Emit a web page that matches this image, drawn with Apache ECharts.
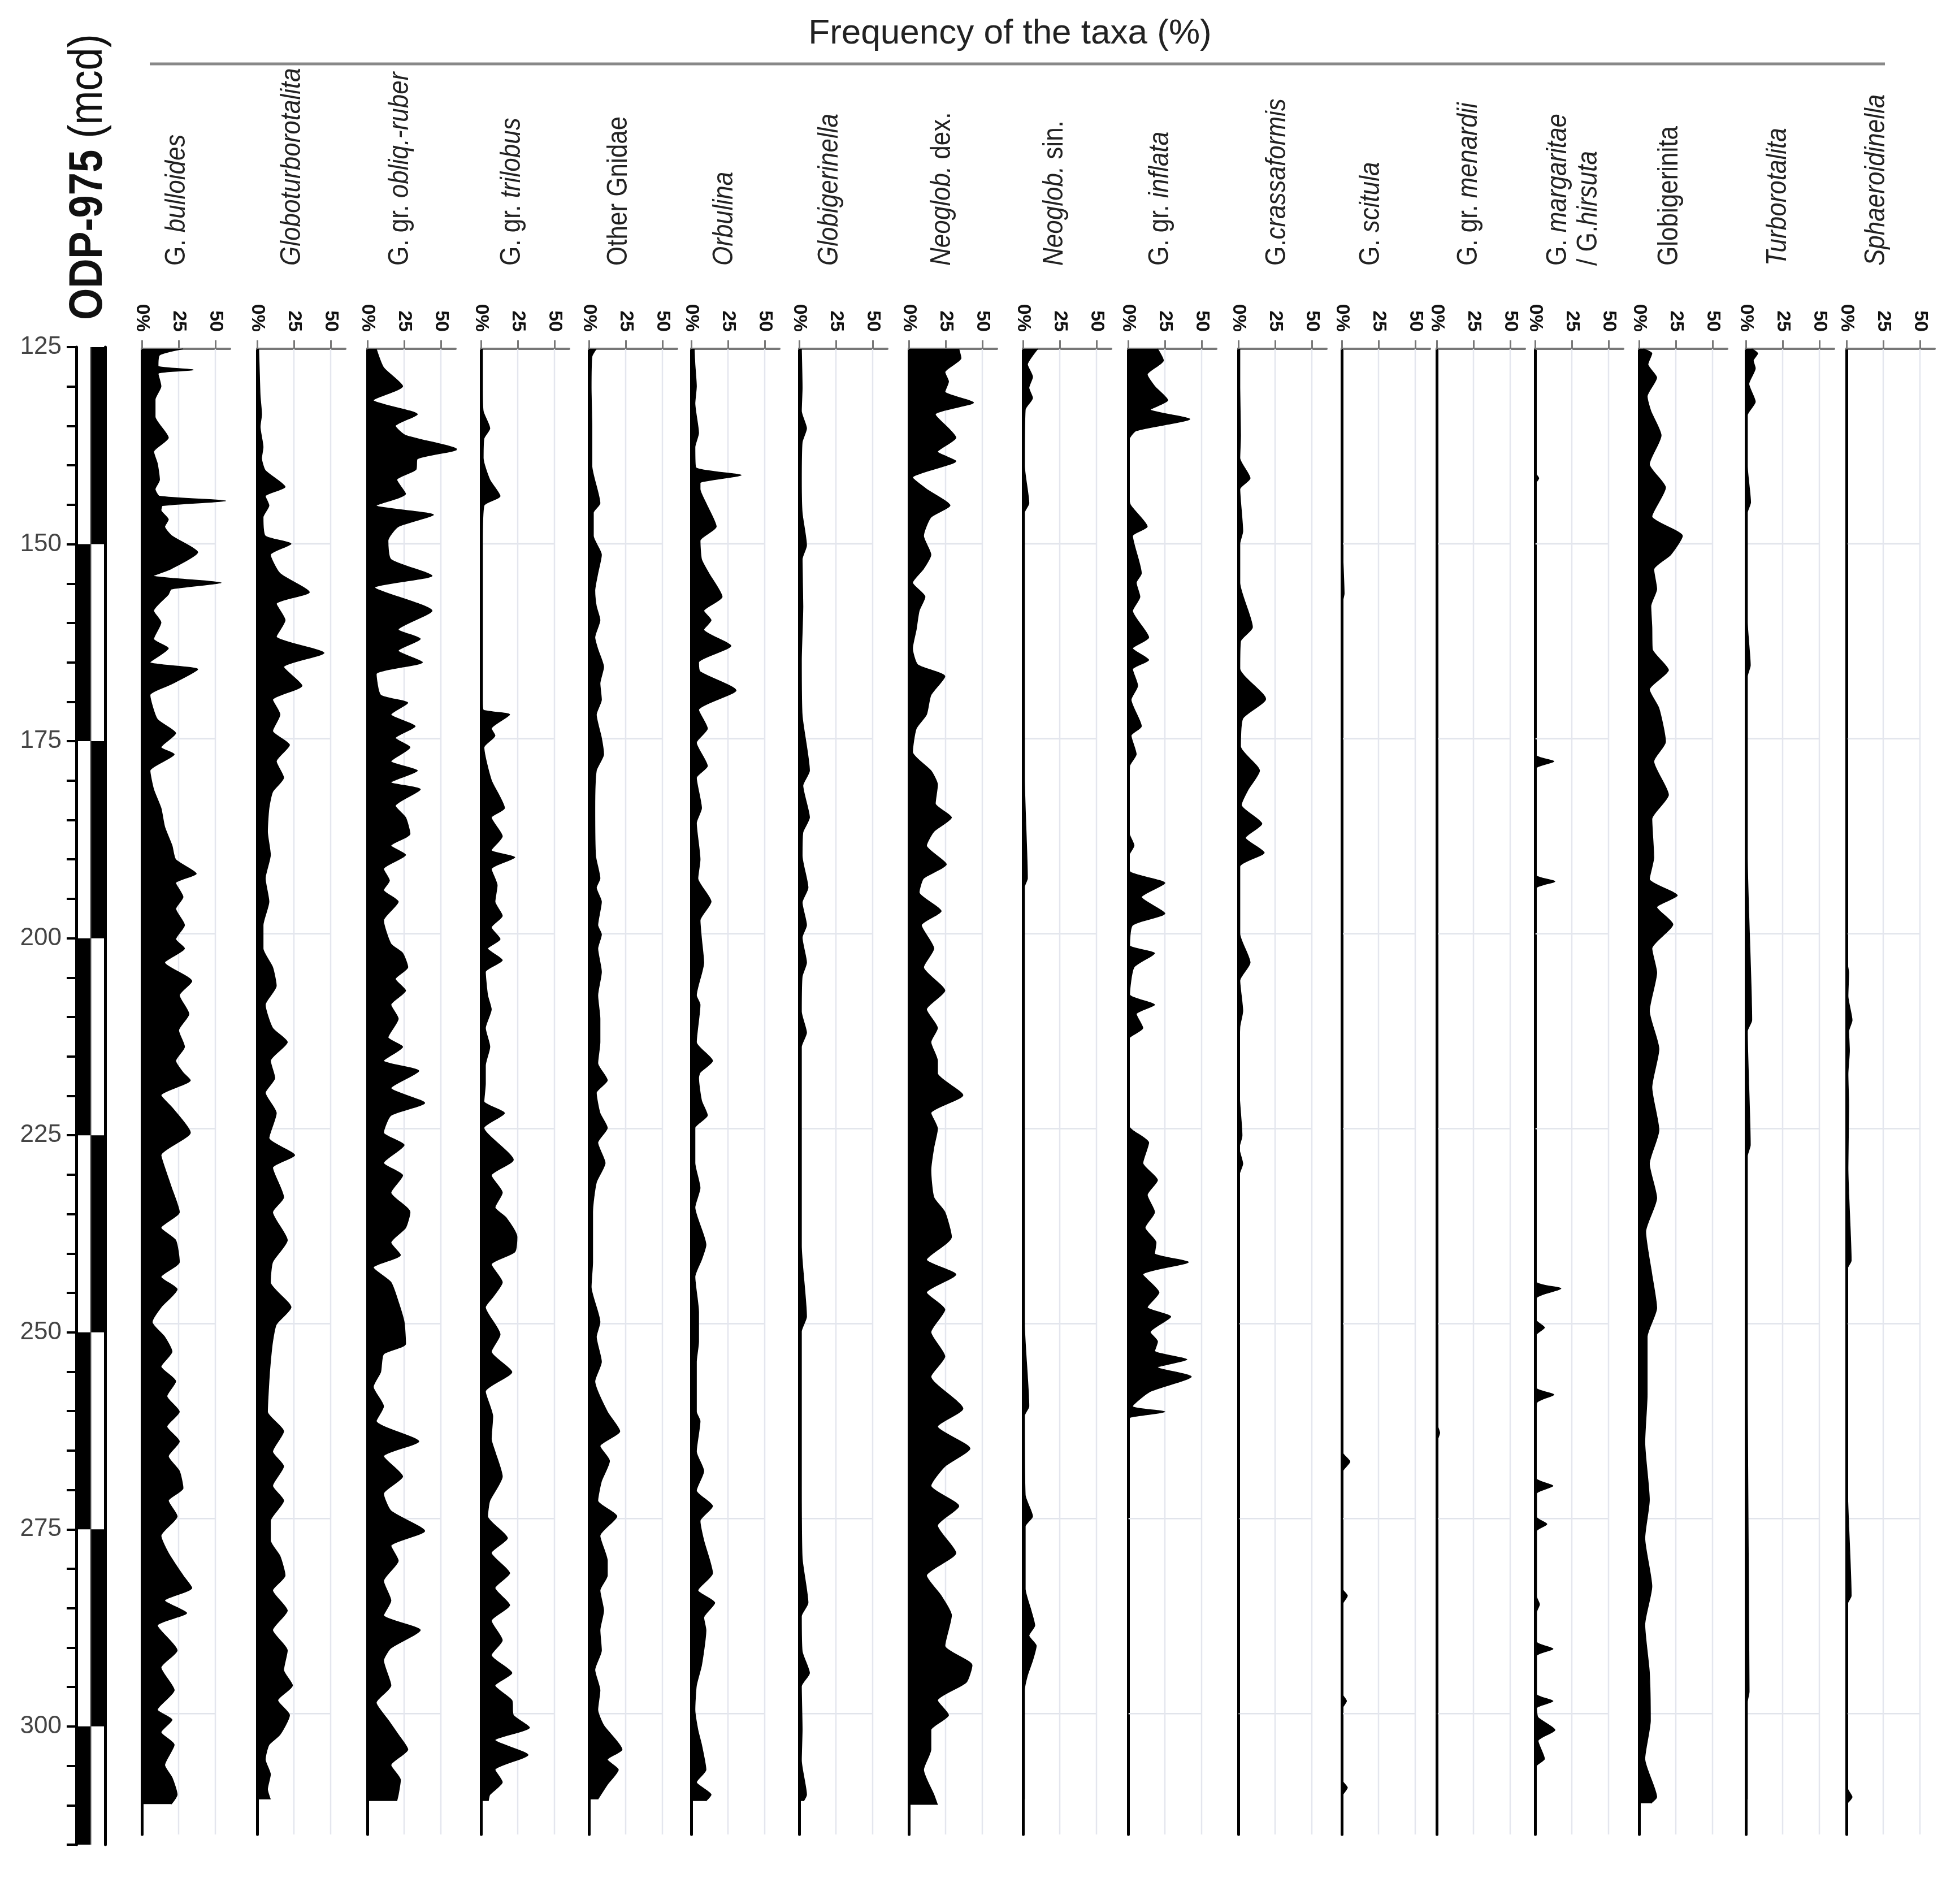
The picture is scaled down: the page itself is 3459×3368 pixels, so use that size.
<!DOCTYPE html>
<html><head><meta charset="utf-8">
<script src="https://cdn.jsdelivr.net/npm/echarts@6/dist/echarts.min.js"></script>
<style>html,body{margin:0;padding:0;background:#fff}#c{width:3459px;height:3368px}</style>
</head><body><div id="c"></div>
<script>
// ---------------- DATA ([depth mcd, frequency %]) ----------------
const taxa = ['G. bulloides','Globoturborotalita','G. gr. obliq.-ruber','G. gr. trilobus','Other Gnidae','Orbulina','Globigerinella','Neoglob. dex.','Neoglob. sin.','G. gr. inflata','G.crassaformis','G. scitula','G. gr. menardii','G. margaritae / G.hirsuta','Globigerinita','Turborotalita','Sphaeroidinella'];
const taxaLabel = ['G. {i|bulloides}','{i|Globoturborotalita}','G. gr. {i|obliq.-ruber}','G. gr. {i|trilobus}','Other Gnidae','{i|Orbulina}','{i|Globigerinella}','{i|Neoglob.} dex.','{i|Neoglob.} sin.','G. gr. {i|inflata}','G.{i|crassaformis}','G. {i|scitula}','G. gr. {i|menardii}','G. {i|margaritae}\n/ G.{i|hirsuta}','Globigerinita','{i|Turborotalita}','{i|Sphaeroidinella}'];
const xTicks = [0, 25, 50];
const xTickLabels = ['0%', '25', '50'];
const depthGridLines = [150, 175, 200, 225, 250, 275, 300];
const chronBounds = [125, 150, 175, 200, 225, 250, 275, 300, 315];
const chronLeftBlack = [0, 1, 0, 1, 0, 1, 0, 1];

const bulloides = [[125,28],[125.8,12],[127.2,11],[127.7,35],[128.2,11],[129.8,13],[131.5,9],[133.7,9],[136.4,18],[138.2,8],[139.7,10.5],[141.8,12],[143,9],[143.9,12],[144.5,57],[145.1,14],[145.7,13],[146.9,18],[147.8,15.5],[149,20.5],[151.1,38],[153.2,20],[154.1,8],[155,54],[155.8,20],[156.5,18],[158.6,8],[160.1,13],[162.2,8],[163.4,18],[165.2,5.5],[166.1,38],[168,20],[169.4,5.5],[172.5,10.5],[174.3,23],[176.1,13],[177,22],[179.1,5.5],[181.5,8],[183.9,13],[186.3,15.5],[188.7,20.5],[190.5,23],[192.3,37],[193.5,23],[195.3,28],[196.8,23],[198.9,29],[200.7,23],[201.9,29],[203.7,15.5],[206.1,34],[207.9,25.5],[210.3,32],[212.4,25],[214.5,29],[216.3,23],[217.8,28],[218.8,33],[220.7,13],[222.3,20.5],[225.5,33],[228.4,13],[230,15.5],[232.5,20],[235.7,25.5],[237.7,13],[239.3,23],[242.1,25.5],[244,13],[245.6,24],[247.9,13],[249.8,7],[251.7,15.5],[253.6,20.5],[255.5,13],[257.4,23],[259.3,17],[261.3,25.5],[263.2,17],[265.1,25.5],[267,18],[268.9,25.5],[271.1,28],[272.7,18],[274.7,24],[277.2,13],[279.4,18],[282.3,28],[283.9,34],[285.5,15.5],[287.1,30.5],[288.7,10.5],[291.9,24],[294.1,13],[297,22],[299.5,10.5],[300.8,20.5],[302.4,13],[304,22],[306.6,15.5],[308.2,20.5],[310.4,24],[311.6,20]];
const globoturborotalita = [[125,1],[128,1.5],[131,2],[133.4,3],[135,2],[137.6,4],[139,3],[140.6,5.5],[142.7,19],[143.9,5.5],[145.1,8],[146.6,4],[149,5.5],[150,23],[151.4,9],[153.8,15.5],[156.2,35.5],[157.7,13],[159.8,19],[161.9,13],[164,45.5],[165.8,18],[168.2,30.5],[170,10.5],[171.9,15.5],[174,10.5],[175.8,22],[177.9,13],[180,18],[181.8,10.5],[183.9,8],[186.9,7],[189.9,9],[192.9,5.5],[195.9,8],[198.9,4],[201.9,4],[204.3,10.5],[206.7,13],[209.1,5.5],[212.1,10.5],[213.9,20.5],[216.3,9],[218.5,12],[220.4,5.5],[223,13],[226.2,8],[228.4,25.5],[230,10.5],[233.8,18],[235.7,10.5],[239.3,20.5],[242.1,10.5],[244.7,9],[247.9,23],[250.1,13],[252.3,10.5],[254.9,9],[257.4,8],[261.3,7],[263.8,18],[266.4,10.5],[268.3,18],[270.8,10.5],[272.7,18],[275.3,9],[277.8,9],[279.8,15.5],[282.3,19],[284.2,10.5],[286.8,20.5],[289.3,10.5],[291.9,20.5],[294.4,18],[296.4,24],[298.3,14],[300.2,22],[302.7,15.5],[304,8],[305.9,5.5],[307.8,9],[309.7,7],[311,9]];
const obliqRuber = [[125,6],[127.4,11],[129.8,24],[131.6,4],[133.4,34],[134.9,19],[136.1,26],[137.9,61],[139.1,34],[140.5,33],[141.8,20],[143.6,26],[145.1,6],[146.3,45],[147.8,21],[149.6,14],[152,16],[154.1,44],[155.6,5],[158.6,44],[161,21],[162.2,36],[163.7,21],[165.2,37.5],[166.7,6],[169.4,9],[170.4,27.5],[171.9,16],[173.4,32.5],[174.9,19],[176.1,29],[177.9,16],[179.1,34],[180.6,16],[181.5,36],[183.6,19],[185.1,26],[187.2,29],[188.7,16],[189.9,26],[191.7,11],[193.2,15],[194.4,11],[195.9,21],[198.3,11],[201.3,16],[202.5,24],[204.3,27.5],[205.8,19],[207.3,26],[209.1,16],[210.9,21],[213.3,14],[214.5,24],[216.3,11],[217.6,35],[219.8,16],[221.7,39],[223.3,16],[225.5,11],[227.1,25],[229.4,11],[231,24],[233.2,16],[235.7,29],[237.7,26],[239.6,16],[241.2,22.5],[242.8,4],[244.7,16],[247.2,21],[249.8,25],[252.6,26],[253.9,11],[256.2,9],[258.1,4],[260.6,11],[262.5,6],[265.1,35],[267,11],[269.6,24],[271.8,11],[274,16],[276.6,39],[278.5,16],[280.4,21],[283,11],[285.5,16],[287.4,11],[289.3,36],[291.6,16],[293.2,11],[296.4,16],[298.6,6],[300.8,14],[302.7,21],[304.6,27.5],[306.6,16],[308.5,22.5],[310.4,21],[311.2,20]];
const trilobus = [[125,1],[130,1],[133,1.5],[135.2,6],[136.5,2],[139,1.5],[141.8,6],[143.9,13],[145.1,2],[150,1],[160,1],[170,1],[171.3,1.5],[171.9,19.5],[173.7,7],[174.6,9.5],[176.1,2],[180.3,7],[183.9,16],[185.1,7],[187.5,14.5],[189.3,7],[190.2,23],[191.7,7],[193.8,11],[195.9,9.5],[197.7,14.5],[199.2,7],[200.7,13],[201.9,4.5],[203.4,14.5],[204.9,3],[207.9,4.5],[209.7,7],[212.1,3],[214.5,6],[216.9,3],[219.2,3],[221.5,2],[223,16],[224.9,2],[229,22],[231,7],[233.2,14.5],[235.1,9.5],[236.4,17],[238.9,24.5],[240.8,23],[242.4,7],[244.7,14.5],[246.6,8],[247.9,3],[251.4,13],[253.6,7],[256.2,21],[258.7,3],[261.9,8],[264.8,7],[266.4,9.5],[269.6,14.5],[272.7,6],[274.7,4.5],[277.5,18],[279.4,7],[282,19.5],[283.9,9.5],[286.1,19.5],[288.1,7],[290.6,14.5],[292.5,7],[294.8,21],[296.4,9.5],[298.3,21],[300.2,22],[301.8,33],[303.4,9.5],[305.3,32],[307.2,9.5],[308.8,14.5],[310.4,6],[311.2,5]];
const otherGnidae = [[125,5],[126,2],[130,1.5],[135,2],[140,2],[144.8,7.5],[146,3],[149,3],[151.4,8.5],[153.8,6],[156,4],[158,5],[159.8,7.5],[162,4],[163.5,6],[165.8,10],[167.9,7.5],[170,8.5],[171.9,5],[174.9,8.5],[177,10],[179.1,5],[183.9,4],[190,4.5],[192.9,7.5],[194.1,5],[195.9,8.5],[198.9,6],[200.1,8.5],[201.9,6],[204.9,8.5],[207.9,6],[210.9,7.5],[213.9,7.5],[216.6,6],[218.8,12.5],[220.4,5],[223,7.5],[224.9,12.5],[226.8,6],[229.4,11],[231.9,5],[235.7,2.5],[242.1,2.5],[245.3,1.5],[249.8,7.5],[251.7,5],[254.9,8.5],[257.4,4],[261.3,12.5],[263.8,21],[265.7,7.5],[267.6,14],[270.2,8.5],[272.7,6],[274.7,19],[277.2,7.5],[280.4,12.5],[282.3,12.5],[284.2,7.5],[286.8,10],[289.3,7.5],[291.9,8.5],[294.4,4],[297,7.5],[299.5,6],[301.5,10],[304.6,22.5],[305.9,12.5],[307.2,20],[309.1,12.5],[311,6]];
const orbulina = [[125,2],[127,2.5],[129.8,3.5],[132,2.5],[135.8,5],[137.6,2.5],[140.2,3],[141.2,34],[142.2,6],[143,6],[144.8,10],[147.8,17],[149.6,6],[152,7],[153.8,12],[156.8,21],[158.6,8.5],[159.8,13.5],[161,8.5],[163.1,27],[165.2,5],[166.4,6],[168.8,30.5],[171.3,5],[173.7,11],[175.5,3.5],[178.5,11],[180,3.5],[183.9,7],[185.8,3.5],[190.5,6],[192.9,4.5],[195.9,13.5],[198.3,6],[200.7,7],[203.7,8.5],[207.9,3.5],[209.1,6],[213.9,3.5],[216.3,14.5],[217.8,6],[218.5,5],[221.4,7],[223.3,11],[224.9,2.5],[229.4,2.5],[232.6,6],[235.1,2.5],[239.9,10],[241.8,7],[244,2.5],[248.5,5],[252.3,5],[254.9,3.5],[261.3,3.5],[262.5,6],[266.4,3.5],[268.9,8.5],[271.4,3.5],[273.4,14.5],[275.3,6],[277.8,8.5],[282,14.5],[284.2,4.5],[285.8,16],[287.7,8.5],[289.3,10],[293.8,7],[296.4,3.5],[299.5,2.5],[302.1,4.5],[304,7],[307.2,10],[308.8,3.5],[310.4,13.5],[311.2,10]];
const globigerinella = [[125,1.5],[130,2],[133,1.5],[135.2,5],[137,2],[142,1.5],[146,2],[150.2,5],[152,2],[158,2.5],[165,1.5],[172,2],[179.1,7],[181,2.5],[185.1,7],[187,2.5],[190,2],[194.1,6],[196,2],[198.9,5],[200.5,2],[203.7,5],[205.5,2],[210,1.5],[212.7,5],[214.5,1.5],[220,1.5],[230,1.5],[240,1.5],[249.1,5],[251,1.5],[260,1.5],[270,1.5],[280,2],[285.8,6],[287.5,1.5],[292,2],[294.8,7],[296.5,1.5],[302,2],[306,1.5],[310.4,5],[311.2,3]];
const neoglobDex = [[125,34],[126.2,35.5],[128,24.5],[129.2,27],[130.5,24.5],[131.9,44],[133.4,18],[136.4,32],[138.2,19.5],[139.4,32],[141.5,2.5],[143,12],[145.1,28],[146.6,15],[149,10],[151.4,15],[153.2,10],[155,2.5],[156.8,11],[158.6,7],[161,5],[163.4,2.5],[165.5,6],[167,24.5],[169.4,15],[171.9,12],[173.7,5],[176.7,2.5],[179.1,15],[180.9,19.5],[183.3,18],[185.1,29],[186.9,17],[188.7,12],[191.1,25.5],[192.9,10],[194.7,7],[197.1,22],[198.9,8.5],[201.9,17],[204.3,10],[207.3,24.5],[209.7,12],[212.1,19.5],[213.9,15],[216.3,19.5],[217.9,19.5],[220.7,36.8],[223,15],[225,19.5],[227.4,17],[230.3,15],[233.8,17],[235.7,24.5],[238.9,29],[241.8,12],[243.7,32],[246,12],[248.2,24.5],[251.1,15],[254.2,24.5],[256.8,15],[260.9,36.8],[263.2,19.5],[266,41.6],[268.3,24.5],[270.8,15],[273.4,34],[275.9,19.5],[279.4,32],[282.3,12],[284.9,22],[287.4,29],[291.3,24.5],[293.8,43],[296,39],[298.3,19.5],[300.2,27],[302.1,15],[304.6,15],[307.2,10],[310.4,17],[311.7,19.5]];
const neoglobSin = [[125,10],[126,6],[127,3],[128.6,6.5],[130,4],[131.3,6.5],[132.8,1.5],[140,1],[144.8,4],[146,1],[160,1],[180,1],[192.9,3],[194,1],[210,1],[230,1],[250,1],[260.6,4],[261.8,1],[272,1.5],[274.7,6.5],[276,1.5],[284,1.5],[286.8,5.5],[288.7,8],[290,4],[291.3,9],[293.2,6.5],[295.1,3],[297,1],[305,1],[311,1]];
const inflata = [[125,20],[126.5,24],[128.3,13],[129.8,18],[131.6,27],[132.8,15],[134,42],[135.5,5.5],[136.7,0.5],[143,0],[145,1.5],[147.8,13],[149,3],[153.8,9],[155,5.5],[156.8,8],[158.6,3],[162,14],[163.4,3],[164.9,14],[166.1,3],[168.2,6.5],[170,2],[173.4,9],[174.6,2],[177,5.5],[178.5,1],[187,0.5],[188.7,4],[190,0.5],[192,1],[193.5,25],[195.3,9],[197.4,25],[198.9,3],[201.5,1],[202.5,18],[204.3,4],[207.8,1],[209.1,18],[210.3,5.5],[212.1,10],[213.3,1],[214.5,0],[224.5,0],[225.2,3],[226.8,14],[229.4,10],[231.6,20],[233.5,13],[235.7,18],[237.7,11.5],[239.6,19],[241,18],[242.1,41],[243.7,10],[246,21],[247.9,13],[249.1,29],[251.1,15],[252.3,20],[253.5,18],[254.6,40],[255.6,20],[256.8,43],[258.7,15],[260.6,3],[261.3,25],[262,1.5],[262.6,0],[311,0]];
const crassaformis = [[125,1],[130,1],[136.1,1.5],[139,1],[141.6,8],[143,1],[148.4,3],[150,1],[155,1],[160.7,9.6],[162.5,1.5],[166,1],[169.9,18.6],[172.4,3],[176,1.5],[179.1,14.4],[181.6,6.4],[183.5,2],[185.9,16],[187.7,4.8],[189.6,17.6],[191.4,1],[200,1],[203.7,8],[206,1],[209.9,3],[212,1],[220,0.5],[225.9,2.5],[227.5,0.5],[229.5,3],[231,0.5],[250,0.5],[280,0.5],[311,0.5]];
const scitula = [[125,0.5],[150,0.5],[156.4,1.6],[157.5,0.5],[200,0.5],[240,0.5],[266.5,0.5],[267.7,5.5],[269,0.5],[284,0.5],[284.9,3.8],[286,0.5],[297.5,0.5],[298.4,3.2],[299.3,0.5],[308.6,0.5],[309.5,3.8],[310.5,0.5],[311,0.5]];
const menardii = [[125,0.5],[200,0.5],[263,0.5],[264,2],[265,0.5],[311,0.5]];
const margaritaeHirsuta = [[125,0],[140.8,0],[141.6,2.5],[142.4,0],[177,0],[177.9,12.8],[178.9,0],[192.4,0],[193.3,13.5],[194.3,0],[244.5,0],[245.5,17.6],[246.7,1],[249.5,0.5],[250.5,6.4],[251.5,0.5],[258.2,0.5],[259.1,12.8],[260.2,1],[269.8,0.5],[270.8,12.2],[271.8,1],[274.8,1],[275.7,8],[276.6,1],[285,1],[286,3],[287,1],[290.8,1],[291.7,12.2],[292.6,1],[297.5,1],[298.4,12.2],[299.3,1],[300.5,2],[302.1,13.5],[303.5,2],[305.8,6.4],[306.8,0.5],[311,0.5]];
const globigerinita = [[125,3],[125.6,8.7],[127,6],[128.7,12],[131.1,5.5],[133,8],[136.1,15],[139.8,7],[142.8,18],[146.5,8.7],[149,29.5],[151.4,21.5],[153.3,10],[155.8,12],[158,8],[160.7,8.7],[163.5,9],[166.2,20],[168.7,7],[171.1,13.5],[175.4,18],[177.9,10],[182.2,20],[185.3,8.7],[190.2,10],[193,7],[195.1,26],[196.6,12],[198.8,23],[201.9,8.7],[205,12],[209.9,7],[214.8,13.5],[219.7,8.7],[225.2,13.5],[229.5,7],[233.9,12],[238.2,4.5],[243.7,8.7],[248,12],[251.7,5.5],[259.1,5.5],[265.2,3.9],[272.6,7],[277.5,3.9],[283.7,8.7],[288.6,3.9],[294.7,7],[300.9,7.7],[305.8,3.9],[310.7,12],[311.5,8]];
const turborotalita = [[125,4],[125.6,8],[126.5,5],[127.5,6.4],[129.5,2],[131.8,6.4],[133.5,1],[140,1],[144.7,3.2],[146,1],[160,1],[165.6,3],[167,1],[190,1],[211.1,4],[212.5,1],[227.1,3],[228.5,1],[260,1],[297.2,2.2],[298.5,1],[311,1]];
const sphaeroidinella = [[125,0.5],[150,0.5],[203.7,0.5],[205,1.5],[208,1],[211.1,3.8],[212.5,1.5],[215,2],[218,1],[222,1.5],[230,1],[241.9,3.2],[243,0.5],[270,0.5],[284.9,3.2],[286,0.5],[300,0.5],[309.5,0.5],[310.7,3.8],[311.5,0.5]];

const seriesData = [bulloides, globoturborotalita, obliqRuber, trilobus, otherGnidae, orbulina, globigerinella, neoglobDex, neoglobSin, inflata, crassaformis, scitula, menardii, margaritaeHirsuta, globigerinita, turborotalita, sphaeroidinella];

// ---------------- LAYOUT ----------------
const FONT = '"Liberation Sans", Arial, sans-serif';
const panelLeft = [251,455,650,851,1042,1223,1414,1608,1810,1996,2191,2374,2542,2716,2900,3089,3267];
const labelX = [313,517,708,906,1095,1282,1468,1667,1866,2053,2260,2426,2599,2784,2954,3146,3320];
const PANEL_TOP = 617, PANEL_H = 2628, PANEL_W = 156;
const D_MIN = 125, D_MAX = 315.5, X_MAX = 60;

const grid = [{ left: 135, top: 614, width: 51, height: 2649 }];
const xAxis = [{ gridIndex: 0, type: 'value', min: 0, max: 2, show: false }];
const yAxis = [
  { gridIndex: 0, type: 'value', min: 125, max: 315, interval: 5, inverse: true,
    axisLine: { show: true, onZero: false, lineStyle: { color: '#000', width: 5 } },
    axisTick: { show: true, inside: false, length: 17, lineStyle: { color: '#000', width: 4 } },
    axisLabel: { fontSize: 44, color: '#444', margin: 26, fontFamily: FONT,
      formatter: v => (v % 25 === 0 ? String(v) : '') },
    splitLine: { show: false } },
  { gridIndex: 0, type: 'value', position: 'right', min: 125, max: 315, inverse: true,
    axisLine: { show: true, onZero: false, lineStyle: { color: '#000', width: 5 } },
    axisTick: { show: false }, axisLabel: { show: false }, splitLine: { show: false } }
];
const series = [{
  type: 'custom', xAxisIndex: 0, yAxisIndex: 0, silent: true, z: 2,
  data: chronLeftBlack.map((b, i) => [chronBounds[i], chronBounds[i + 1], b]),
  renderItem: (params, api) => {
    const d0 = api.value(0), d1 = api.value(1), b = api.value(2);
    const p0 = api.coord([b ? 0 : 1, d0]);
    const p1 = api.coord([b ? 1 : 2, d1]);
    const m0 = api.coord([1, d0]), m1 = api.coord([1, d1]);
    return { type: 'group', children: [
      { type: 'rect', shape: { x: p0[0], y: p0[1], width: p1[0] - p0[0], height: p1[1] - p0[1] }, style: { fill: '#000' } },
      { type: 'line', shape: { x1: m0[0], y1: m0[1], x2: m1[0], y2: m1[1] }, style: { stroke: '#555', lineWidth: 2 } }
    ] };
  }
}];

seriesData.forEach((data, i) => {
  const g = i + 1;     // grid / xAxis index
  const yi = i + 2;    // yAxis index (two y axes belong to the depth column)
  grid.push({ left: panelLeft[i], top: PANEL_TOP, width: PANEL_W, height: PANEL_H });
  xAxis.push({
    gridIndex: g, type: 'value', min: 0, max: X_MAX, interval: 25, position: 'top',
    axisLine: { show: true, onZero: false, lineStyle: { color: '#777', width: 4 } },
    axisTick: { show: true, length: 15, customValues: xTicks, lineStyle: { color: '#777', width: 3 } },
    axisLabel: { show: true, customValues: xTicks, rotate: 90, margin: 30, fontSize: 34, fontWeight: 'bold',
      color: '#111', fontFamily: FONT,
      formatter: v => { const k = xTicks.indexOf(v); return k >= 0 ? xTickLabels[k] : ''; } },
    splitLine: { show: false }
  });
  yAxis.push({
    gridIndex: g, type: 'time', min: D_MIN, max: D_MAX, inverse: true,
    axisLine: { show: true, onZero: false, lineStyle: { color: '#000', width: 5 } },
    axisTick: { show: false }, axisLabel: { show: false }, splitLine: { show: false }
  });
  series.push({
    type: 'custom', xAxisIndex: g, yAxisIndex: yi, silent: true, z: 1,
    data: depthGridLines.map(d => [0, d]),
    renderItem: (params, api) => {
      const d = api.value(1);
      const a = api.coord([0, d]), b = api.coord([50, d]);
      return { type: 'line', shape: { x1: a[0], y1: a[1], x2: b[0], y2: b[1] }, style: { stroke: '#e1e4eb', lineWidth: 2.5 } };
    }
  });
  series.push({
    type: 'custom', xAxisIndex: g, yAxisIndex: yi, silent: true, z: 1,
    data: xTicks.filter(v => v > 0).map(v => [v, D_MIN]),
    renderItem: (params, api) => {
      const v = api.value(0);
      const a = api.coord([v, D_MIN]), b = api.coord([v, D_MAX]);
      return { type: 'line', shape: { x1: a[0], y1: a[1], x2: b[0], y2: b[1] }, style: { stroke: '#e4e6ee', lineWidth: 2.5 } };
    }
  });
  series.push({
    name: taxa[i], type: 'line', xAxisIndex: g, yAxisIndex: yi, data: data, z: 3,
    encode: { x: 1, y: 0 },
    showSymbol: false, smooth: 0.2, silent: true,
    lineStyle: { color: '#000', width: 1.5 },
    areaStyle: { color: '#000', opacity: 1 }
  });
});

const graphic = [
  { type: 'text', x: 1787, y: 60, style: { text: 'Frequency of the taxa (%)', fontSize: 62, fontFamily: FONT, fill: '#222', align: 'center', verticalAlign: 'middle', textAlign: 'center', textVerticalAlign: 'middle' } },
  { type: 'line', shape: { x1: 265, y1: 113, x2: 3335, y2: 113 }, style: { stroke: '#888', lineWidth: 5 } },
  { type: 'text', x: 157, y: 566, rotation: Math.PI / 2, scaleX: 0.86,
    style: { text: '{b|ODP-975} {n|(mcd)}', fontSize: 84, fontFamily: FONT, fill: '#111',
      align: 'left', verticalAlign: 'middle', textAlign: 'left', textVerticalAlign: 'middle',
      rich: { b: { fontSize: 84, fontWeight: 'bold', fontFamily: FONT, fill: '#111' },
              n: { fontSize: 84, fontFamily: FONT, fill: '#111' } } } }
];
taxaLabel.forEach((t, i) => {
  graphic.push({ type: 'text', x: labelX[i], y: 470, rotation: Math.PI / 2, scaleX: 0.88,
    style: { text: t, fontSize: 50, fontFamily: FONT, fill: '#222', lineHeight: 54,
      align: 'left', verticalAlign: 'middle', textAlign: 'left', textVerticalAlign: 'middle',
      rich: { i: { fontSize: 50, fontStyle: 'italic', fontFamily: FONT, fill: '#222', lineHeight: 54 } } } });
});

const chart = echarts.init(document.getElementById('c'), null, { renderer: 'canvas' });
chart.setOption({
  animation: false,
  backgroundColor: '#fff',
  textStyle: { fontFamily: FONT },
  grid, xAxis, yAxis, series, graphic
});
</script></body></html>
